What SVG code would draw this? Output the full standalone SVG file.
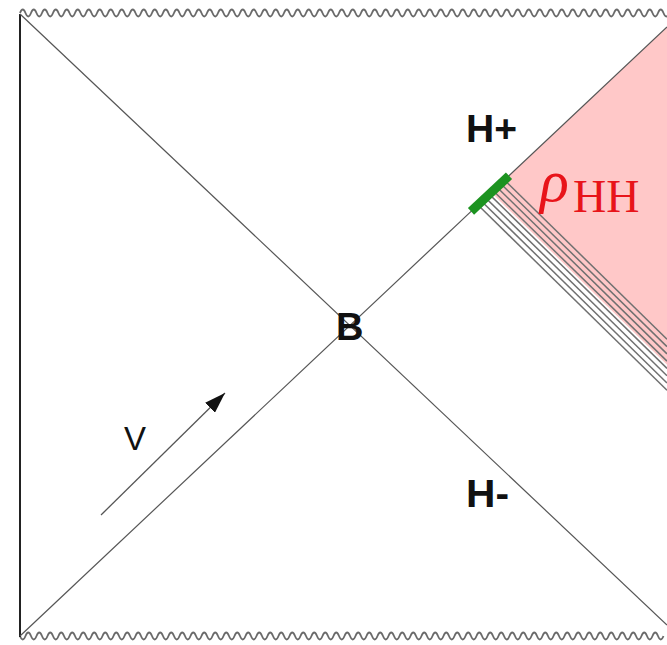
<svg xmlns="http://www.w3.org/2000/svg" width="667" height="645" viewBox="0 0 667 645">
<style>
.ln{stroke:#555;stroke-width:1.2;fill:none}
.wave{stroke:#6a6a6a;stroke-width:1.8;fill:none}
.hatch{stroke:#707070;stroke-width:1.5;fill:none}
.lbl{font-family:"Liberation Sans",Arial,sans-serif;font-weight:bold;fill:#111}
.rho{font-family:"Liberation Serif","Times New Roman",serif;fill:#e8141a}
</style>
<defs>
<marker id="ah" markerUnits="userSpaceOnUse" markerWidth="21" markerHeight="14" refX="21" refY="7" orient="auto">
<path d="M0,0 L21,7 L0,14 z" fill="#111"/>
</marker>
</defs>
<rect width="667" height="645" fill="#fff"/>
<g id="region-pink">
<polygon points="667,27 508,176.7 491.3,192.6 667,364.8" fill="#ffc8c8"/>
</g>
<g id="boundaries">
<path class="wave" d="M20,13 q2.75,-7 5.5,0 t5.5,0 t5.5,0 t5.5,0 t5.5,0 t5.5,0 t5.5,0 t5.5,0 t5.5,0 t5.5,0 t5.5,0 t5.5,0 t5.5,0 t5.5,0 t5.5,0 t5.5,0 t5.5,0 t5.5,0 t5.5,0 t5.5,0 t5.5,0 t5.5,0 t5.5,0 t5.5,0 t5.5,0 t5.5,0 t5.5,0 t5.5,0 t5.5,0 t5.5,0 t5.5,0 t5.5,0 t5.5,0 t5.5,0 t5.5,0 t5.5,0 t5.5,0 t5.5,0 t5.5,0 t5.5,0 t5.5,0 t5.5,0 t5.5,0 t5.5,0 t5.5,0 t5.5,0 t5.5,0 t5.5,0 t5.5,0 t5.5,0 t5.5,0 t5.5,0 t5.5,0 t5.5,0 t5.5,0 t5.5,0 t5.5,0 t5.5,0 t5.5,0 t5.5,0 t5.5,0 t5.5,0 t5.5,0 t5.5,0 t5.5,0 t5.5,0 t5.5,0 t5.5,0 t5.5,0 t5.5,0 t5.5,0 t5.5,0 t5.5,0 t5.5,0 t5.5,0 t5.5,0 t5.5,0 t5.5,0 t5.5,0 t5.5,0 t5.5,0 t5.5,0 t5.5,0 t5.5,0 t5.5,0 t5.5,0 t5.5,0 t5.5,0 t5.5,0 t5.5,0 t5.5,0 t5.5,0 t5.5,0 t5.5,0 t5.5,0 t5.5,0 t5.5,0 t5.5,0 t5.5,0 t5.5,0 t5.5,0 t5.5,0 t5.5,0 t5.5,0 t5.5,0 t5.5,0 t5.5,0 t5.5,0 t5.5,0 t5.5,0 t5.5,0 t5.5,0 t5.5,0 t5.5,0 t5.5,0 t5.5,0 t5.5,0 t5.5,0 t5.5,0 t5.5,0 t5.5,0"/>
<path class="wave" d="M20,636 q2.75,7 5.5,0 t5.5,0 t5.5,0 t5.5,0 t5.5,0 t5.5,0 t5.5,0 t5.5,0 t5.5,0 t5.5,0 t5.5,0 t5.5,0 t5.5,0 t5.5,0 t5.5,0 t5.5,0 t5.5,0 t5.5,0 t5.5,0 t5.5,0 t5.5,0 t5.5,0 t5.5,0 t5.5,0 t5.5,0 t5.5,0 t5.5,0 t5.5,0 t5.5,0 t5.5,0 t5.5,0 t5.5,0 t5.5,0 t5.5,0 t5.5,0 t5.5,0 t5.5,0 t5.5,0 t5.5,0 t5.5,0 t5.5,0 t5.5,0 t5.5,0 t5.5,0 t5.5,0 t5.5,0 t5.5,0 t5.5,0 t5.5,0 t5.5,0 t5.5,0 t5.5,0 t5.5,0 t5.5,0 t5.5,0 t5.5,0 t5.5,0 t5.5,0 t5.5,0 t5.5,0 t5.5,0 t5.5,0 t5.5,0 t5.5,0 t5.5,0 t5.5,0 t5.5,0 t5.5,0 t5.5,0 t5.5,0 t5.5,0 t5.5,0 t5.5,0 t5.5,0 t5.5,0 t5.5,0 t5.5,0 t5.5,0 t5.5,0 t5.5,0 t5.5,0 t5.5,0 t5.5,0 t5.5,0 t5.5,0 t5.5,0 t5.5,0 t5.5,0 t5.5,0 t5.5,0 t5.5,0 t5.5,0 t5.5,0 t5.5,0 t5.5,0 t5.5,0 t5.5,0 t5.5,0 t5.5,0 t5.5,0 t5.5,0 t5.5,0 t5.5,0 t5.5,0 t5.5,0 t5.5,0 t5.5,0 t5.5,0 t5.5,0 t5.5,0 t5.5,0 t5.5,0 t5.5,0 t5.5,0 t5.5,0 t5.5,0 t5.5,0"/>
<line x1="20" y1="14" x2="20" y2="637" stroke="#222" stroke-width="2"/>
</g>
<g id="connectors">
<line class="ln" x1="20" y1="636" x2="667" y2="27"/>
<line class="ln" x1="20" y1="14" x2="667" y2="625"/>
<g id="hatch">
<line class="hatch" x1="478" y1="205" x2="667" y2="390.2"/>
<line class="hatch" x1="481.8" y1="201.45" x2="667" y2="382.95"/>
<line class="hatch" x1="485.6" y1="197.9" x2="667" y2="375.7"/>
<line class="hatch" x1="489.4" y1="194.35" x2="667" y2="368.4"/>
<line class="hatch" x1="493.2" y1="190.8" x2="667" y2="361.1"/>
<line class="hatch" x1="497" y1="187.25" x2="667" y2="353.85"/>
<line class="hatch" x1="500.8" y1="183.7" x2="667" y2="346.6"/>
<line class="hatch" x1="504.6" y1="180.15" x2="667" y2="339.3"/>
</g>
<line id="v-arrow" x1="101" y1="515" x2="225" y2="393" stroke="#555" stroke-width="1.3" marker-end="url(#ah)"/>
</g>
<g id="green-bar">
<line x1="471" y1="211.4" x2="509" y2="175.8" stroke="#1c9320" stroke-width="9"/>
</g>
<g id="label-hplus"><text class="lbl" x="466" y="142" font-size="38" textLength="51" lengthAdjust="spacingAndGlyphs">H+</text></g>
<g id="label-hminus"><text class="lbl" x="466" y="507" font-size="38" textLength="43" lengthAdjust="spacingAndGlyphs">H-</text></g>
<g id="node-B"><text class="lbl" x="336" y="340" font-size="38">B</text></g>
<g id="label-V"><text class="lbl" x="124" y="450" font-size="33" font-weight="normal" style="font-weight:normal">V</text></g>
<g id="label-rho">
<text class="rho" x="540" y="201" font-size="60" font-style="italic">ρ</text>
<text class="rho" x="573" y="212" font-size="46">HH</text>
</g>
</svg>
